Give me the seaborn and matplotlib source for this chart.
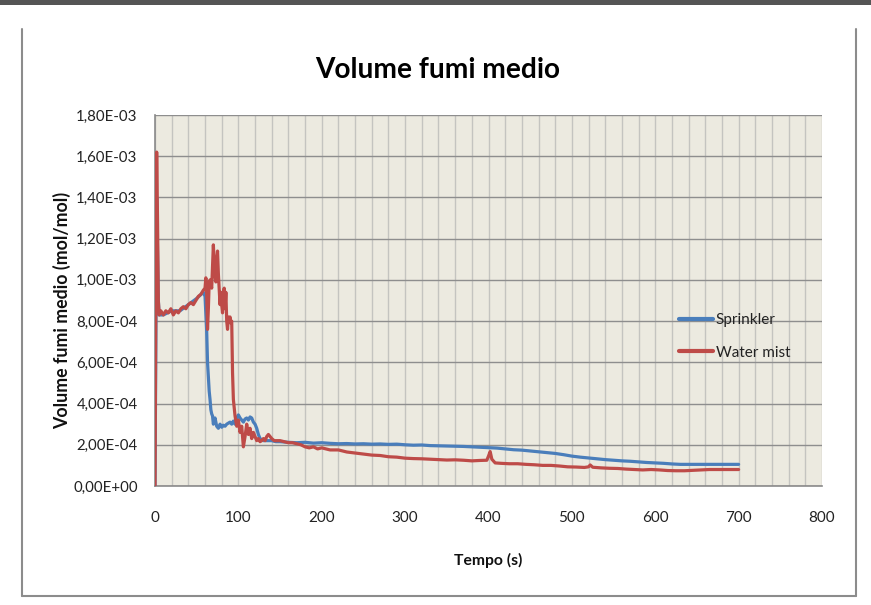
import numpy as np
import pandas as pd
import matplotlib
matplotlib.use("Agg")
import matplotlib.pyplot as plt
import seaborn as sns
from matplotlib.lines import Line2D
from matplotlib.patches import Rectangle
from matplotlib.ticker import MultipleLocator, FixedLocator

# ---------------- data (values in units of 1e-4 mol/mol) ----------------
t_sprinkler = [0, 2, 4, 5, 10, 20, 30, 40, 50, 58, 60, 62, 63, 64, 65, 66, 67, 68, 69, 70,
               72, 74, 76, 78, 80, 82, 84, 86, 88, 90, 92, 94, 96, 98, 100, 102, 104, 106,
               108, 110, 112, 114, 116, 118, 120, 122, 124, 126, 128, 130, 135, 140, 145,
               150, 160, 170, 180, 190, 200, 210, 220, 230, 240, 250, 260, 270, 280, 290,
               300, 310, 320, 330, 340, 350, 360, 370, 380, 390, 400, 410, 420, 430, 440,
               450, 460, 470, 480, 490, 500, 510, 520, 530, 540, 550, 560, 570, 580, 590,
               600, 610, 620, 630, 640, 650, 660, 670, 680, 690, 700]
v_sprinkler = [0, 14, 9, 8.3, 8.3, 8.5, 8.5, 8.8, 9.1, 9.4, 9.2, 7.5, 6.0, 5.3, 4.6, 4.2, 3.7,
               3.5, 3.4, 3.0, 3.3, 2.9, 2.8, 3.0, 2.85, 2.95, 2.9, 3.0, 3.05, 3.1, 3.0, 3.15,
               3.0, 3.3, 3.45, 3.3, 3.2, 3.1, 3.25, 3.3, 3.2, 3.35, 3.3, 3.1, 3.0, 2.8, 2.5,
               2.3, 2.25, 2.2, 2.2, 2.2, 2.15, 2.15, 2.12, 2.1, 2.12, 2.08, 2.1, 2.07, 2.05,
               2.06, 2.04, 2.05, 2.03, 2.04, 2.02, 2.03, 2.0, 1.98, 1.99, 1.96, 1.95, 1.94,
               1.93, 1.92, 1.9, 1.88, 1.86, 1.84, 1.8, 1.76, 1.74, 1.7, 1.66, 1.62, 1.58,
               1.52, 1.45, 1.4, 1.36, 1.32, 1.28, 1.25, 1.22, 1.2, 1.17, 1.14, 1.12, 1.1,
               1.07, 1.05, 1.05, 1.05, 1.05, 1.05, 1.05, 1.05, 1.05]

t_watermist = [0, 1, 2, 3, 4, 5, 7, 10, 13, 16, 19, 22, 25, 28, 31, 34, 37, 40, 43, 46, 49,
               52, 55, 58, 60, 61, 62, 63, 64, 65, 66, 68, 70, 71, 72, 73, 74, 75, 76, 77,
               78, 79, 80, 81, 82, 83, 84, 85, 86, 87, 88, 89, 90, 91, 92, 93, 94, 95, 96,
               98, 100, 102, 104, 106, 108, 110, 112, 114, 116, 118, 120, 122, 124, 126,
               128, 130, 132, 134, 136, 138, 140, 143, 146, 150, 155, 160, 165, 170, 175,
               180, 185, 190, 195, 200, 210, 220, 230, 240, 250, 260, 270, 280, 290, 300,
               310, 320, 330, 340, 350, 360, 370, 380, 390, 398, 400, 402, 404, 408, 415,
               425, 435, 445, 455, 465, 475, 485, 495, 505, 515, 520, 522, 525, 535, 545,
               555, 565, 575, 585, 595, 605, 615, 625, 635, 645, 655, 665, 675, 685, 695, 700]
v_watermist = [0, 9, 16.2, 13, 9, 8.3, 8.5, 8.3, 8.5, 8.4, 8.6, 8.3, 8.5, 8.4, 8.6, 8.7, 8.6,
               8.8, 8.9, 8.8, 9.0, 9.2, 9.3, 9.5, 9.6, 10.1, 9.3, 7.6, 8.6, 9.9, 10.0, 9.6,
               11.7, 10.8, 10.2, 9.9, 11.0, 11.4, 10.3, 9.5, 8.8, 9.4, 8.8, 8.4, 9.3, 9.6,
               8.6, 9.4, 8.0, 7.6, 8.2, 8.1, 8.2, 7.9, 8.0, 5.5, 4.2, 3.8, 3.4, 2.9, 3.2,
               2.6, 2.9, 1.9, 2.4, 3.0, 2.5, 2.8, 2.3, 2.6, 2.4, 2.2, 2.3, 2.15, 2.2, 2.3,
               2.2, 2.4, 2.5, 2.4, 2.3, 2.2, 2.2, 2.2, 2.15, 2.1, 2.1, 2.05, 2.0, 1.9, 1.85,
               1.9, 1.8, 1.85, 1.75, 1.75, 1.65, 1.6, 1.55, 1.5, 1.48, 1.42, 1.4, 1.35, 1.33,
               1.32, 1.3, 1.28, 1.26, 1.27, 1.25, 1.22, 1.24, 1.25, 1.45, 1.67, 1.3, 1.12,
               1.1, 1.08, 1.08, 1.05, 1.03, 1.0, 1.0, 0.97, 0.93, 0.92, 0.9, 0.93, 1.02, 0.91,
               0.88, 0.86, 0.85, 0.82, 0.8, 0.78, 0.8, 0.78, 0.75, 0.74, 0.74, 0.76, 0.78,
               0.8, 0.8, 0.8, 0.8, 0.8]

series_names = ["Sprinkler", "Water mist"]
series_colors = ["#4A7EBB", "#BE4B48"]
y_ticks = [0, 2e-4, 4e-4, 6e-4, 8e-4, 1e-3, 1.2e-3, 1.4e-3, 1.6e-3, 1.8e-3]
y_tick_labels = ["0,00E+00", "2,00E-04", "4,00E-04", "6,00E-04", "8,00E-04",
                 "1,00E-03", "1,20E-03", "1,40E-03", "1,60E-03", "1,80E-03"]
x_ticks = [0, 100, 200, 300, 400, 500, 600, 700, 800]
title = "Volume fumi medio"
x_label = "Tempo (s)"
y_label = "Volume fumi medio (mol/mol)"

df = pd.concat([
    pd.DataFrame({"t": t_sprinkler, "v": np.array(v_sprinkler) * 1e-4, "serie": series_names[0]}),
    pd.DataFrame({"t": t_watermist, "v": np.array(v_watermist) * 1e-4, "serie": series_names[1]}),
], ignore_index=True)

# ---------------- style ----------------
sns.set_style("white")
plt.rcParams["font.family"] = ["Lato", "DejaVu Sans"]

W, H = 871, 605
fig = plt.figure(figsize=(W / 100, H / 100), dpi=100)
fig.patch.set_facecolor("white")

L, R, T, B = 155, 822, 115, 486
ax = fig.add_axes([L / W, 1 - B / H, (R - L) / W, (B - T) / H])
ax.set_facecolor("#ECEAE0")

sns.lineplot(data=df, x="t", y="v", hue="serie", palette=dict(zip(series_names, series_colors)),
             estimator=None, sort=False, linewidth=2.3, ax=ax, legend=False, zorder=3)

ax.set_xlim(0, 800)
ax.set_ylim(0, 1.8e-3)
ax.xaxis.set_major_locator(FixedLocator(x_ticks))
ax.xaxis.set_minor_locator(MultipleLocator(20))
ax.yaxis.set_major_locator(FixedLocator(y_ticks))
ax.set_yticklabels(y_tick_labels)
ax.set_xticklabels([str(x) for x in x_ticks])

ax.grid(which="minor", axis="x", color="#C4C4C0", linewidth=1.0, zorder=0)
ax.grid(which="major", axis="x", color="#C4C4C0", linewidth=1.0, zorder=0)
ax.grid(which="major", axis="y", color="#8E8E8E", linewidth=1.0, zorder=0)
ax.set_axisbelow(True)

for s in ["top", "right"]:
    ax.spines[s].set_visible(False)
for s in ["left", "bottom"]:
    ax.spines[s].set_color("#8A8A8A")
    ax.spines[s].set_linewidth(1.2)

ax.tick_params(axis="both", which="major", direction="out", length=5, width=1,
               color="#8A8A8A", labelcolor="#222222")
ax.tick_params(axis="x", which="major", pad=13, labelsize=11)
ax.tick_params(axis="y", which="major", pad=7.5, labelsize=10.8)
ax.tick_params(axis="x", which="minor", length=0)

ax.set_xlabel(x_label, fontsize=11.3, fontweight="bold", color="#111111", va="center")
ax.xaxis.set_label_coords(0.5, (B - 560) / (B - T))
ax.set_ylabel(y_label, fontsize=12.8, fontweight="bold", color="#111111", va="center")
ax.yaxis.set_label_coords((62 - L) / (R - L), (B - 310) / (B - T))

fig.text(438 / W, 1 - 70 / H, title, ha="center", va="center", fontsize=20.2,
         fontweight="bold", color="black")

handles = [Line2D([], [], color=c, linewidth=3) for c in series_colors]
ax.legend(handles, series_names, loc="upper left", bbox_to_anchor=((679 - L) / (R - L), 0.465),
          frameon=False, fontsize=11, handlelength=2.2, handletextpad=0.2,
          labelspacing=1.2, borderpad=0, borderaxespad=0, labelcolor="#222222")

# outer frame and top bar
fig.add_artist(Rectangle((0, 1 - 5 / H), 1, 5 / H, transform=fig.transFigure,
                         color="#555555", lw=0))
fc = "#8C8C8C"
fig.add_artist(Line2D([22 / W, 22 / W], [1 - 29 / H, 1 - 596 / H], transform=fig.transFigure, color=fc, lw=1.5))
fig.add_artist(Line2D([22 / W, 856 / W], [1 - 596 / H, 1 - 596 / H], transform=fig.transFigure, color=fc, lw=1.5))
fig.add_artist(Line2D([856 / W, 856 / W], [1 - 29 / H, 1 - 596 / H], transform=fig.transFigure, color=fc, lw=1.5))

fig.savefig("out.png", dpi=100)
